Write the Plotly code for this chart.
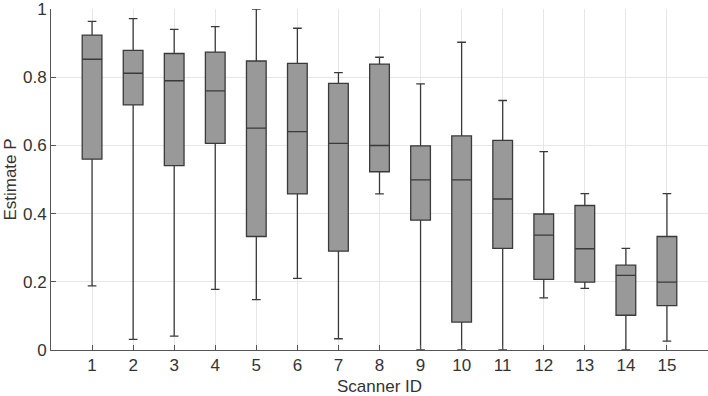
import plotly.graph_objects as go

scanner_ids = list(range(1, 16))
upper_whisker = [0.964, 0.972, 0.941, 0.949, 1.000, 0.944, 0.814, 0.859, 0.781, 0.903, 0.732, 0.582, 0.459, 0.298, 0.459]
q3_values     = [0.924, 0.879, 0.870, 0.874, 0.848, 0.841, 0.782, 0.839, 0.599, 0.628, 0.615, 0.399, 0.424, 0.249, 0.333]
medians       = [0.853, 0.812, 0.790, 0.760, 0.651, 0.641, 0.606, 0.600, 0.499, 0.499, 0.443, 0.337, 0.297, 0.219, 0.199]
q1_values     = [0.560, 0.719, 0.541, 0.606, 0.333, 0.458, 0.290, 0.523, 0.381, 0.082, 0.298, 0.207, 0.199, 0.102, 0.130]
lower_whisker = [0.188, 0.031, 0.041, 0.178, 0.148, 0.210, 0.033, 0.458, 0.000, 0.000, 0.000, 0.153, 0.181, 0.000, 0.026]
y_ticks = [0, 0.2, 0.4, 0.6, 0.8, 1.0]
y_tick_labels = ["0", "0.2", "0.4", "0.6", "0.8", "1"]

fig = go.Figure()
fig.add_trace(go.Box(
    x=scanner_ids,
    q1=q1_values, median=medians, q3=q3_values,
    lowerfence=lower_whisker, upperfence=upper_whisker,
    fillcolor="#999999",
    line=dict(color="#3a3a3a", width=1.3),
    width=0.48,
    whiskerwidth=0.44,
    boxpoints=False,
    hoverinfo="skip",
    showlegend=False,
))

font_family = "Liberation Sans, Arial, sans-serif"
fig.update_layout(
    width=708, height=396,
    margin=dict(l=51, r=0, t=6, b=46),
    paper_bgcolor="white", plot_bgcolor="white",
    font=dict(family=font_family, size=17, color="#333333"),
    xaxis=dict(
        range=[0, 16],
        tickmode="array", tickvals=scanner_ids, ticktext=[str(i) for i in scanner_ids],
        showgrid=True, gridcolor="#e6e6e6", gridwidth=1,
        showline=True, linecolor="#555555", linewidth=1,
        ticks="inside", ticklen=5, tickcolor="#555555",
        zeroline=False,
        title=dict(text="Scanner ID", standoff=6, font=dict(size=17)),
        tickfont=dict(size=17),
    ),
    yaxis=dict(
        range=[0, 1.0005],
        tickmode="array", tickvals=y_ticks, ticktext=y_tick_labels,
        showgrid=True, gridcolor="#e6e6e6", gridwidth=1,
        showline=True, linecolor="#555555", linewidth=1,
        ticks="inside", ticklen=5, tickcolor="#555555",
        zeroline=False,
        ticklabeloverflow="allow",
        title=dict(text="Estimate P", standoff=2, font=dict(size=17)),
        tickfont=dict(size=17),
    ),
)

fig.write_html("out.html")
